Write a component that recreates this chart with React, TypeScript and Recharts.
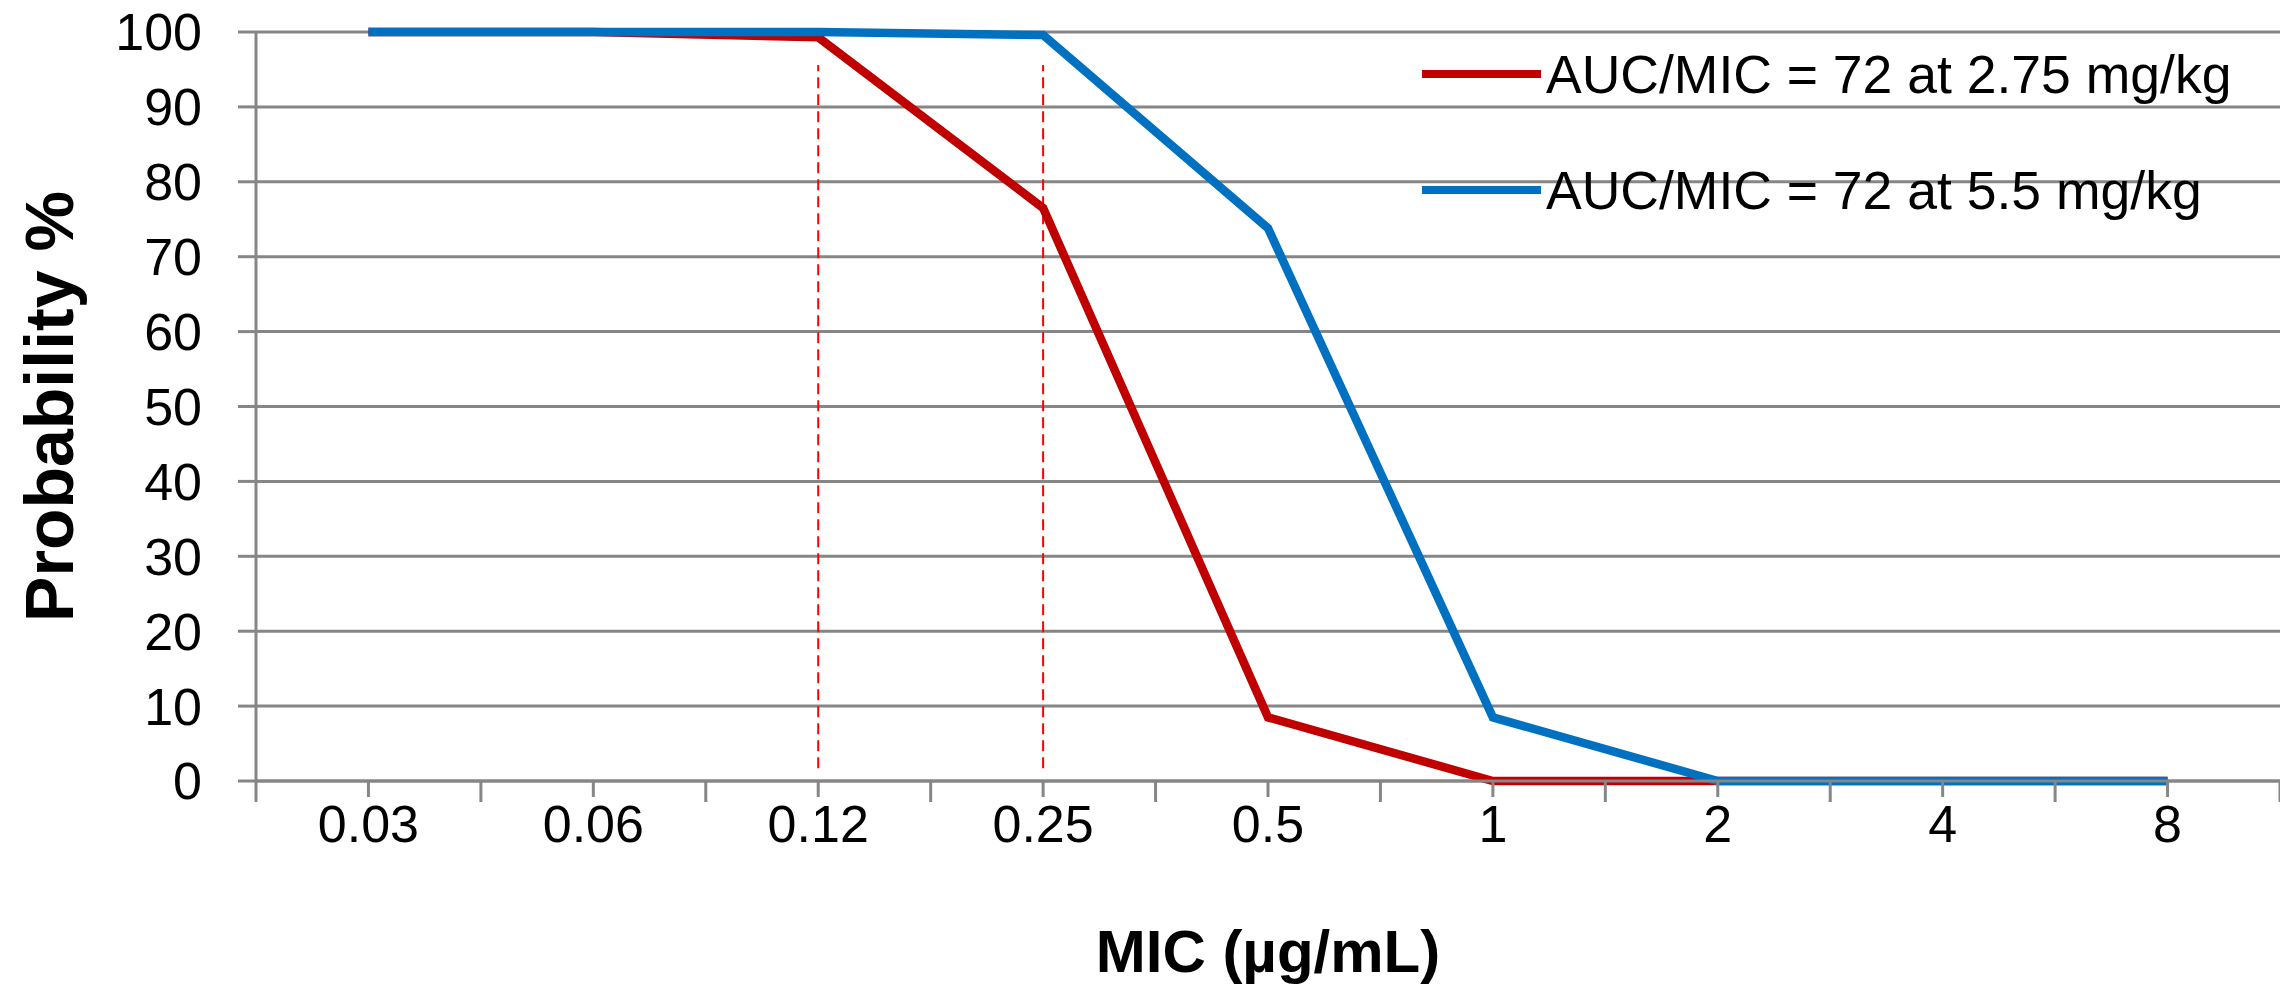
import { LineChart, Line, XAxis, YAxis, CartesianGrid, ReferenceLine, Legend } from 'recharts';

const micLabels = ['0.03', '0.06', '0.12', '0.25', '0.5', '1', '2', '4', '8'];
const lowDose = [100, 100, 99.3, 76.5, 8.5, 0, 0, 0, 0];
const highDose = [100, 100, 100, 99.6, 73.8, 8.5, 0, 0, 0];
const probTicks = [0, 10, 20, 30, 40, 50, 60, 70, 80, 90, 100];
const breakpoints = ['0.12', '0.25'];
const seriesNames = ['AUC/MIC = 72 at 2.75 mg/kg', 'AUC/MIC = 72 at 5.5 mg/kg'];

const data = micLabels.map((mic, i) => ({ mic, low: lowDose[i], high: highDose[i] }));

const FONT = '"Liberation Sans", Arial, sans-serif';
const GRID = '#868686';

function MicTick(props: any) {
  const { x, y, payload, index, width, visibleTicksCount } = props;
  const band = width && visibleTicksCount ? width / visibleTicksCount : 225;
  const left = x - band / 2;
  const isLast = index === visibleTicksCount - 1;
  return (
    <g>
      <line x1={x} x2={x} y1={y} y2={y + 16} stroke={GRID} strokeWidth={3} />
      <line x1={left} x2={left} y1={y} y2={y + 21} stroke={GRID} strokeWidth={3} />
      {isLast && <line x1={x + band / 2} x2={x + band / 2} y1={y} y2={y + 21} stroke={GRID} strokeWidth={3} />}
      <text x={x} y={y + 61} textAnchor="middle" fontFamily={FONT} fontSize={52} fill="#000">
        {payload.value}
      </text>
    </g>
  );
}

function YTitle(props: any) {
  const { viewBox } = props;
  const cy = viewBox.y + viewBox.height / 2;
  return (
    <text
      x={49}
      y={cy}
      transform={`rotate(-90 49 ${cy})`}
      textAnchor="middle"
      dominantBaseline="central"
      fontFamily={FONT}
      fontWeight="bold"
      fontSize={68}
      fill="#000"
    >
      Probability %
    </text>
  );
}

function XTitle(props: any) {
  const { viewBox } = props;
  const cx = viewBox.x + viewBox.width / 2;
  return (
    <text x={cx} y={972} textAnchor="middle" fontFamily={FONT} fontWeight="bold" fontSize={60} fill="#000">
      MIC (µg/mL)
    </text>
  );
}

function SeriesLegend(props: any) {
  const { payload } = props;
  return (
    <div style={{ fontFamily: FONT, fontSize: 53.5, color: '#000' }}>
      {(payload || []).map((p: any) => (
        <div key={p.value} style={{ display: 'flex', alignItems: 'center', height: 116, whiteSpace: 'nowrap' }}>
          <span style={{ display: 'inline-block', width: 119, height: 8, background: p.color, marginRight: 5 }} />
          <span>{p.value}</span>
        </div>
      ))}
    </div>
  );
}

export default function App() {
  return (
    <div style={{ position: 'absolute', left: 0, top: 0, background: '#fff' }}>
      <LineChart width={2280} height={988} data={data} margin={{ top: 32, right: 0, left: 0, bottom: 0 }}>
        <CartesianGrid vertical={false} stroke={GRID} strokeWidth={3} />
        <XAxis
          dataKey="mic"
          scale="band"
          height={207}
          axisLine={{ stroke: GRID, strokeWidth: 3 }}
          tickLine={false}
          tickSize={0}
          tickMargin={0}
          interval={0}
          tick={<MicTick />}
          label={<XTitle />}
        />
        <YAxis
          width={256}
          domain={[0, 100]}
          ticks={probTicks}
          interval={0}
          axisLine={{ stroke: GRID, strokeWidth: 3 }}
          tickLine={{ stroke: GRID, strokeWidth: 3 }}
          tickSize={18}
          tickMargin={36}
          tick={{ fontFamily: FONT, fontSize: 52, fill: '#000' }}
          label={<YTitle />}
        />
        {breakpoints.map((bp) => (
          <ReferenceLine
            key={bp}
            segment={[{ x: bp, y: 1.7 }, { x: bp, y: 95.6 }]}
            stroke="#FF0000"
            strokeWidth={2}
            strokeDasharray="11 6"
          />
        ))}
        <Line
          type="linear"
          dataKey="low"
          name={seriesNames[0]}
          stroke="#C00000"
          strokeWidth={8.5}
          dot={false}
          activeDot={false}
          isAnimationActive={false}
        />
        <Line
          type="linear"
          dataKey="high"
          name={seriesNames[1]}
          stroke="#0070C0"
          strokeWidth={8.5}
          dot={false}
          activeDot={false}
          isAnimationActive={false}
        />
        <Legend
          layout="horizontal"
          verticalAlign="middle"
          align="center"
          wrapperStyle={{ top: 16, left: 1422, width: 'auto' }}
          content={<SeriesLegend />}
        />
      </LineChart>
    </div>
  );
}
